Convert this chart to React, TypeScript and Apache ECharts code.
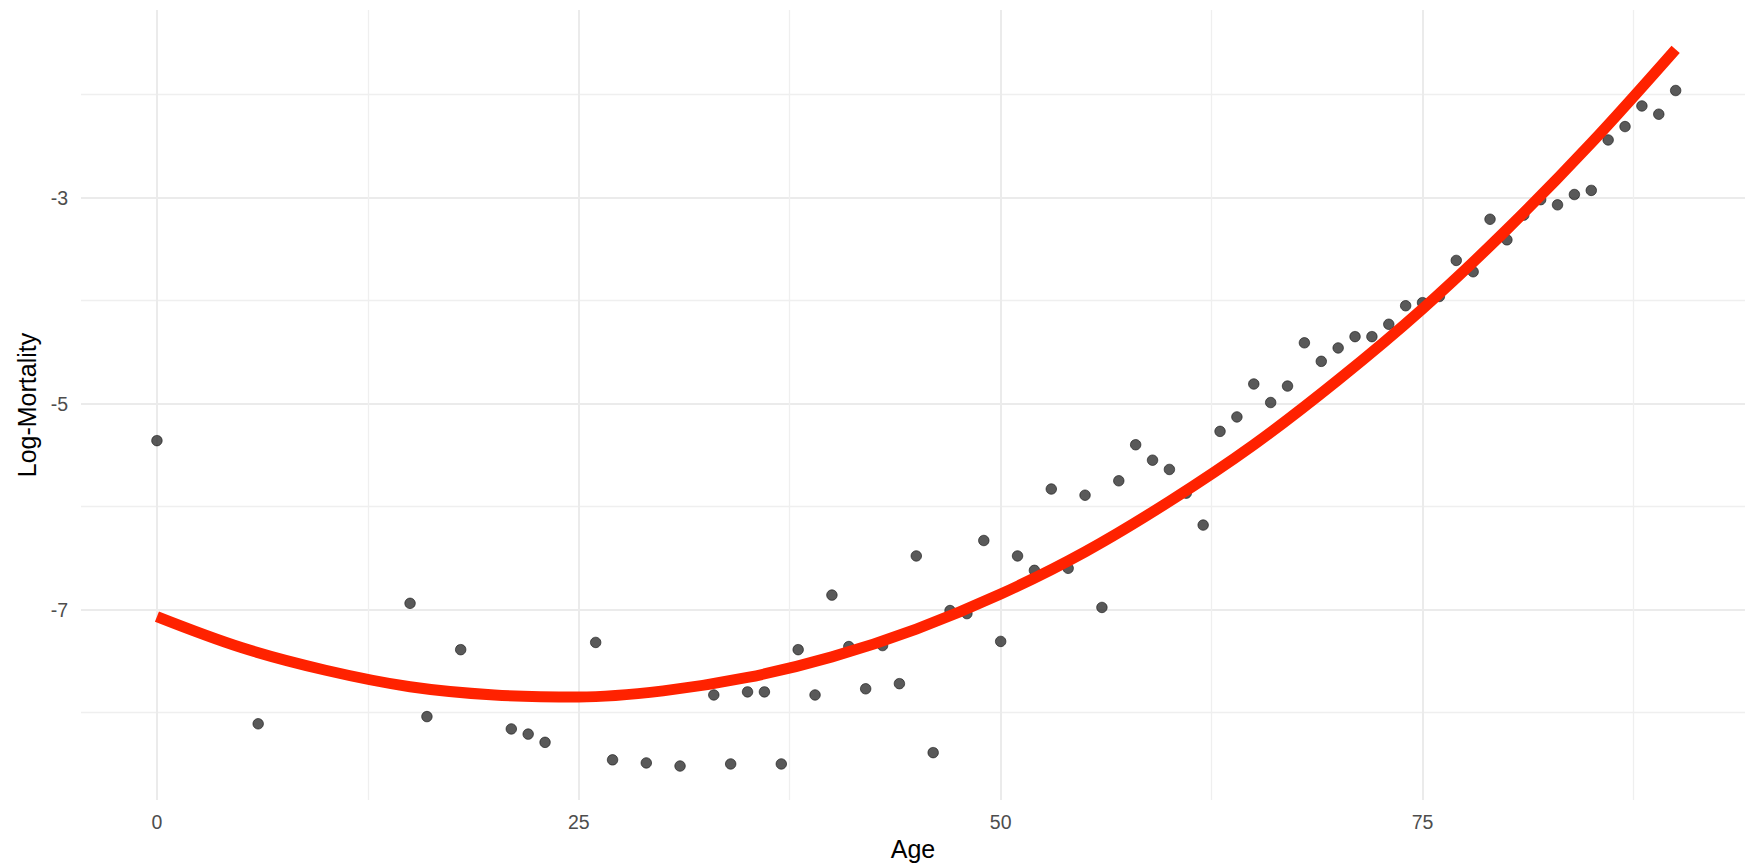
import React, { useEffect, useRef } from "react";
import * as echarts from "echarts";

// Observed data: age vs log-mortality
const ages = [
  0, 6, 15, 16, 18, 21, 22, 23, 26, 27, 29, 31, 33, 34, 35, 36, 37, 38, 39, 40,
  41, 42, 43, 44, 45, 46, 47, 48, 49, 50, 51, 52, 53, 54, 55, 56, 57, 58, 59, 60,
  61, 62, 63, 64, 65, 66, 67, 68, 69, 70, 71, 72, 73, 74, 75, 76, 77, 78, 79, 80,
  81, 82, 83, 84, 85, 86, 87, 88, 89, 90,
];
const logMortality = [
  -5.36, -8.11, -6.94, -8.04, -7.39, -8.16, -8.21, -8.29, -7.32, -8.46, -8.49, -8.52,
  -7.83, -8.5, -7.8, -7.8, -8.5, -7.39, -7.83, -6.86,
  -7.36, -7.77, -7.35, -7.72, -6.48, -8.39, -7.01, -7.04, -6.33, -7.31,
  -6.48, -6.62, -5.83, -6.6, -5.89, -6.98, -5.75, -5.4, -5.55, -5.64,
  -5.87, -6.18, -5.27, -5.13, -4.81, -4.99, -4.83, -4.41, -4.59, -4.46,
  -4.35, -4.35, -4.23, -4.05, -4.02, -3.96, -3.61, -3.72, -3.21, -3.41,
  -3.17, -3.02, -3.07, -2.97, -2.93, -2.44, -2.31, -2.11, -2.19, -1.96,
];

// Fitted curve
const fitAges = [0, 5, 10, 15, 20, 25, 30, 35, 40, 45, 50, 55, 60, 65, 70, 75, 80, 85, 90];
const fitValues = [
  -7.07, -7.37, -7.59, -7.75, -7.83, -7.85, -7.79, -7.66, -7.46, -7.19, -6.85,
  -6.44, -5.95, -5.4, -4.77, -4.08, -3.31, -2.47, -1.56,
];

// Axis breaks
const xMajor = [0, 25, 50, 75];
const xMinor = [12.5, 37.5, 62.5, 87.5];
const yMajor = [-7, -5, -3];
const yMinor = [-8, -6, -4, -2];

export default function App() {
  const ref = useRef<HTMLDivElement>(null);

  useEffect(() => {
    if (!ref.current) return;
    const chart = echarts.init(ref.current, null, { renderer: "svg" });
    const font = "Liberation Sans, Arial, Helvetica, sans-serif";
    const xMin = -4.5;
    const xMax = 94.11;
    const yMin = -8.85;
    const yMax = -1.178;

    const majorLine = { show: true, lineStyle: { color: "#ebebeb", width: 2 } };
    const minorLine = { show: true, lineStyle: { color: "#efefef", width: 1.3 } };

    chart.setOption({
      animation: false,
      backgroundColor: "#ffffff",
      grid: {
        left: 81,
        right: 0,
        top: 10,
        bottom: 67,
        containLabel: false,
        outerBoundsMode: "none",
      },
      xAxis: [
        {
          type: "value",
          min: xMin,
          max: xMax,
          name: "Age",
          nameLocation: "middle",
          nameGap: 36,
          nameTextStyle: { color: "#000000", fontSize: 25, fontFamily: font },
          axisLine: { show: false },
          axisTick: { show: false, customValues: xMajor },
          axisLabel: {
            customValues: xMajor,
            color: "#4d4d4d",
            fontSize: 19.5,
            fontFamily: font,
            margin: 12,
          },
          splitLine: majorLine,
        },
        {
          type: "value",
          min: xMin,
          max: xMax,
          position: "bottom",
          axisLine: { show: false },
          axisTick: { show: false, customValues: xMinor },
          axisLabel: { show: false, customValues: xMinor },
          splitLine: minorLine,
        },
      ],
      yAxis: [
        {
          type: "value",
          min: yMin,
          max: yMax,
          name: "Log-Mortality",
          nameLocation: "middle",
          nameGap: 40,
          nameTextStyle: { color: "#000000", fontSize: 25, fontFamily: font },
          axisLine: { show: false },
          axisTick: { show: false, customValues: yMajor },
          axisLabel: {
            customValues: yMajor,
            color: "#4d4d4d",
            fontSize: 19.5,
            fontFamily: font,
            margin: 13,
          },
          splitLine: majorLine,
        },
        {
          type: "value",
          min: yMin,
          max: yMax,
          position: "left",
          axisLine: { show: false },
          axisTick: { show: false, customValues: yMinor },
          axisLabel: { show: false, customValues: yMinor },
          splitLine: minorLine,
        },
      ],
      series: [
        {
          type: "scatter",
          xAxisIndex: 0,
          yAxisIndex: 0,
          data: ages.map((a, i) => [a, logMortality[i]]),
          symbol: "circle",
          symbolSize: 10.5,
          itemStyle: { color: "#2f2f2f", borderColor: "#141414", borderWidth: 0.8 },
          z: 3,
          silent: true,
        },
        {
          type: "line",
          xAxisIndex: 0,
          yAxisIndex: 0,
          data: fitAges.map((a, i) => [a, fitValues[i]]),
          smooth: 0.35,
          showSymbol: false,
          symbol: "none",
          lineStyle: { color: "#ff2200", width: 11, cap: "butt" },
          z: 4,
          silent: true,
        },
      ],
    });

    return () => chart.dispose();
  }, []);

  return (
    <div
      ref={ref}
      style={{ position: "fixed", left: 0, top: 0, width: 1745, height: 867 }}
    />
  );
}
